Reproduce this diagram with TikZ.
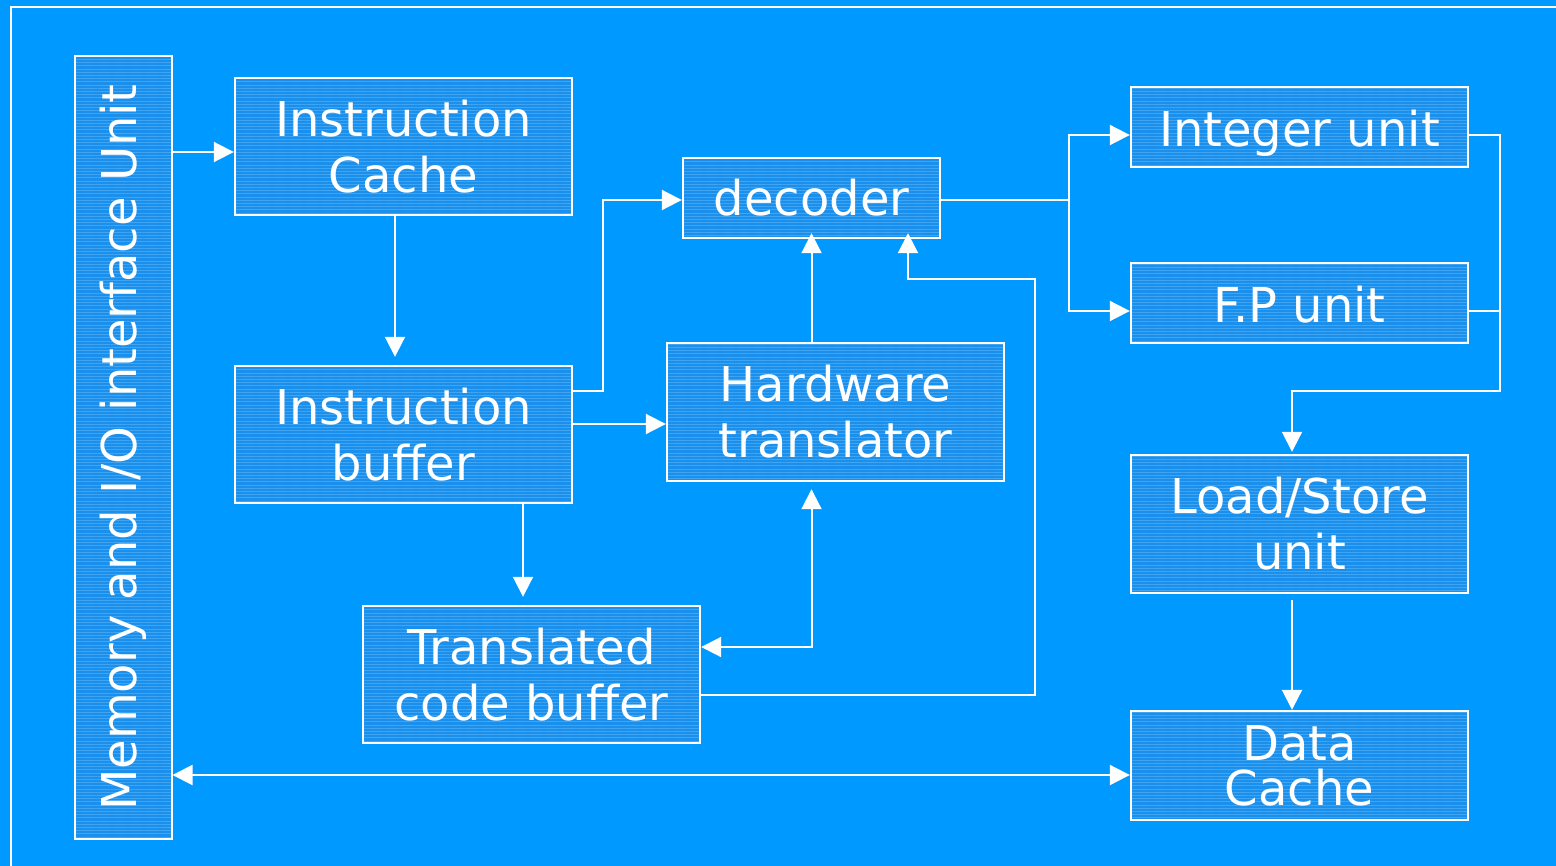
\documentclass[tikz,border=0pt]{standalone}
\usepackage{fontspec}
\setmainfont{DejaVu Sans}
\usetikzlibrary{arrows.meta,patterns.meta}
\definecolor{bgblue}{HTML}{0099FF}
\definecolor{boxblue}{HTML}{1A8FEC}
\definecolor{boxline}{HTML}{40A6F4}
\newcommand{\lowered}[2]{\raisebox{-#1}[\height][\depth]{#2}}
\tikzset{
  unit/.style={draw=white, line width=1.2pt, inner sep=0pt, align=center,
    text=white, font=\fontsize{24}{28}\selectfont,
    preaction={fill=boxblue},
    pattern={Lines[angle=0,distance=1.6pt,line width=0.5pt]}, pattern color=boxline},
  wire/.style={draw=white, line width=1pt},
  arr/.style={wire, -{Triangle[length=10pt,width=10pt]}},
  biarr/.style={wire, {Triangle[length=10pt,width=10pt]}-{Triangle[length=10pt,width=10pt]}}
}
\begin{document}
\begin{tikzpicture}[x=0.5pt,y=-0.5pt]
\fill[bgblue] (0,0) rectangle (1556,866);
\useasboundingbox (0,0) rectangle (1556,866);
% outer frame
\draw[white, line width=1.1pt] (11,7) rectangle (1580,890);

% units
\node[unit, minimum width=48.5pt, minimum height=391.5pt] (mem) at (123.5,447.5)
  {\rotatebox{90}{Memory and I/O interface Unit}};
\node[unit, minimum width=168.5pt, minimum height=68.5pt] (ic) at (403.5,146.5) {Instruction\\Cache};
\node[unit, minimum width=128.5pt, minimum height=40pt] (dec) at (811.5,198) {decoder};
\node[unit, minimum width=168.5pt, minimum height=68.5pt] (ib) at (403.5,434.5) {Instruction\\buffer};
\node[unit, minimum width=168.5pt, minimum height=69pt] (ht) at (835.5,412) {Hardware\\translator};
\node[unit, minimum width=168.5pt, minimum height=68.5pt] (tcb) at (531.5,674.5) {Translated\\code buffer};
\node[unit, minimum width=168.5pt, minimum height=40pt] (iu) at (1299.5,127) {\lowered{3pt}{Integer unit}};
\node[unit, minimum width=168.5pt, minimum height=40pt] (fp) at (1299.5,303) {\lowered{1pt}{F.P unit}};
\node[unit, minimum width=168.5pt, minimum height=69pt] (ls) at (1299.5,524) {Load/Store\\unit};
\node[unit, minimum width=168.5pt, minimum height=54.5pt, font=\fontsize{24}{22.5}\selectfont] (dc) at (1299.5,765.5) {Data\\Cache};

% instruction path
\draw[arr] (mem.east |- 0,152) -- (ic.west |- 0,152);
\draw[arr, shorten >=4pt] (ic.south -| 395,0) -- (ib.north -| 395,0);
\draw[arr] (ib.east |- 0,391) -| (603,300) |- (dec.west |- 0,200);
\draw[arr] (ib.east |- 0,424) -- (ht.west |- 0,424);
\draw[arr, shorten >=-3pt] (ht.north -| dec.south) -- (dec.south);
\draw[arr, shorten >=-3pt] (tcb.east |- 0,695) -| (1035,279) -| (dec.south -| 908,0);
\draw[arr, shorten >=4pt] (ib.south -| 523,0) -- (tcb.north -| 523,0);
\draw[biarr, shorten >=3.5pt] (tcb.east |- 0,647) -| (ht.south -| dec.south);

% decoder to execution units
\path (dec.east |- 0,200) -- ++(128,0) coordinate (jd);
\draw[wire] (dec.east |- 0,200) -- (jd);
\draw[arr] (jd) |- (iu.west |- 0,135);
\draw[arr] (jd) |- (fp.west |- 0,311);

% execution units to load/store
\coordinate (jr) at (1500,391);
\draw[arr, shorten >=1pt] (iu.east |- 0,135) -| (jr) -| (ls.north -| 1292,0);
\draw[wire] (fp.east |- 0,311) -- (jr |- 0,311);
\draw[arr, shorten <=3pt] (ls.south -| 1292,0) -- (dc.north -| 1292,0);

% data cache to memory interface
\draw[biarr] (mem.east |- 0,775) -- (dc.west |- 0,775);
\end{tikzpicture}
\end{document}
